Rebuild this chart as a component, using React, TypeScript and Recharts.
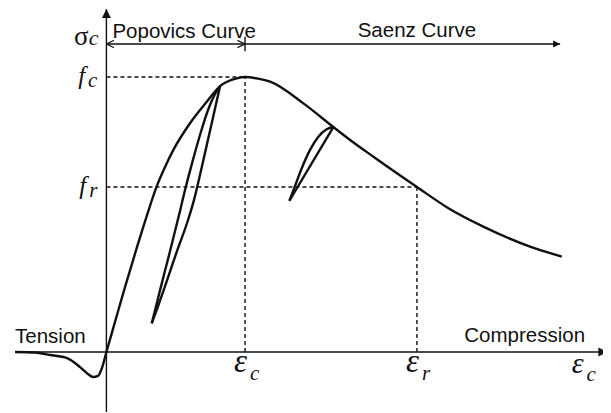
import {
  ComposedChart,
  Line,
  XAxis,
  YAxis,
  ReferenceLine,
  Scatter,
} from "recharts";

// strain as a multiple of the peak strain, stress as a multiple of the peak stress
const envelope = [
  [-0.659, 0], [-0.515, -0.002], [-0.407, -0.011], [-0.284, -0.022],
  [-0.19, -0.055], [-0.133, -0.08], [-0.097, -0.091], [-0.061, -0.087],
  [-0.032, -0.058], [0, 0], [0.048, 0.085], [0.134, 0.236], [0.221, 0.382],
  [0.293, 0.498], [0.358, 0.596], [0.423, 0.673], [0.483, 0.735],
  [0.603, 0.832], [0.724, 0.91], [0.82, 0.967], [0.94, 0.995], [1, 1],
  [1.094, 0.994], [1.181, 0.983], [1.421, 0.904], [1.637, 0.818],
  [1.758, 0.771], [1.926, 0.71], [2.24, 0.6], [2.467, 0.523],
  [2.719, 0.456], [3.056, 0.383], [3.285, 0.347],
];

// first unload/reload cycle, just before the peak
const cycleOneReload = [
  [0.327, 0.104], [0.387, 0.225], [0.459, 0.367], [0.531, 0.513],
  [0.567, 0.589], [0.618, 0.687], [0.675, 0.789], [0.733, 0.88],
  [0.776, 0.931], [0.82, 0.967],
];
const cycleOneUnload = [
  [0.327, 0.104], [0.363, 0.153], [0.426, 0.244], [0.509, 0.367],
  [0.589, 0.48], [0.632, 0.553], [0.675, 0.644], [0.747, 0.804],
  [0.82, 0.967],
];

// second cycle, on the softening branch
const cycleTwoReload = [
  [1.32, 0.55], [1.361, 0.604], [1.409, 0.668], [1.469, 0.735],
  [1.529, 0.783], [1.589, 0.81], [1.637, 0.818],
];
const cycleTwoUnload = [[1.32, 0.55], [1.637, 0.818]];

const peakStrain = 1;
const peakStress = 1;
const residualStrain = 2.24;
const residualStress = 0.6;

const strainAxisEnd = 3.614;
const strainAxisStart = -0.659;
const stressAxisTop = 1.247;
const stressAxisBottom = -0.218;
const rangeLevel = 1.12;
const saenzEnd = 3.273;

const strainTicks = [peakStrain, residualStrain, 3.357];
const strainTickSubs = ["c", "r", "c"];

const toPoints = (rows: number[][]) => rows.map(([e, s]) => ({ e, s }));

const INK = "#111";
const SANS = "'Liberation Sans', Arial, sans-serif";
const SERIF = "'Liberation Serif', 'Times New Roman', serif";

const curve = {
  dataKey: "s",
  stroke: INK,
  strokeWidth: 2.4,
  dot: false,
  activeDot: false,
  isAnimationActive: false,
} as const;

const dashed = { stroke: INK, strokeWidth: 1.4, strokeDasharray: "4 3" };

const seg = (marker: { start?: string; end?: string }, width = 1.4) =>
  (p: any) => (
    <line
      x1={p.x1}
      y1={p.y1}
      x2={p.x2}
      y2={p.y2}
      stroke={INK}
      strokeWidth={width}
      markerStart={marker.start ? `url(#${marker.start})` : undefined}
      markerEnd={marker.end ? `url(#${marker.end})` : undefined}
    />
  );

const at = (e: number, s: number) => [{ e, s }];

const App = () => {
  return (
    <div>
      <svg width={0} height={0} style={{ position: "absolute" }}>
        <defs>
          <marker id="solidHead" viewBox="0 0 10 10" refX={10} refY={5}
            markerWidth={9} markerHeight={10} markerUnits="userSpaceOnUse"
            orient="auto">
            <path d="M0,0 L10,5 L0,10 z" fill={INK} />
          </marker>
          <marker id="smallHead" viewBox="0 0 10 10" refX={10} refY={5}
            markerWidth={8} markerHeight={7} markerUnits="userSpaceOnUse"
            orient="auto">
            <path d="M0,0 L10,5 L0,10 z" fill={INK} />
          </marker>
          <marker id="openHead" viewBox="0 0 10 10" refX={9.5} refY={5}
            markerWidth={8} markerHeight={8} markerUnits="userSpaceOnUse"
            orient="auto-start-reverse">
            <path d="M0,0.5 L9.5,5 L0,9.5" fill="none" stroke={INK} strokeWidth={1.6} />
          </marker>
        </defs>
      </svg>
      <ComposedChart
        width={603}
        height={405}
        margin={{ top: 0, right: 0, bottom: 0, left: 0 }}
      >
        <XAxis type="number" dataKey="e" domain={[-0.71, 3.64]} hide allowDataOverflow />
        <YAxis type="number" dataKey="s" domain={[-0.2218, 1.2509]} hide allowDataOverflow />

        {/* axes */}
        <ReferenceLine
          segment={[{ x: strainAxisStart, y: 0 }, { x: strainAxisEnd, y: 0 }]}
          shape={seg({ end: "solidHead" })}
        />
        <ReferenceLine
          segment={[{ x: 0, y: stressAxisBottom }, { x: 0, y: stressAxisTop }]}
          shape={seg({ end: "solidHead" })}
        />

        {/* guide lines to peak and residual points */}
        <ReferenceLine segment={[{ x: 0, y: peakStress }, { x: peakStrain, y: peakStress }]} {...dashed} />
        <ReferenceLine segment={[{ x: peakStrain, y: 0 }, { x: peakStrain, y: peakStress }]} {...dashed} />
        <ReferenceLine segment={[{ x: 0, y: residualStress }, { x: residualStrain, y: residualStress }]} {...dashed} />
        <ReferenceLine segment={[{ x: residualStrain, y: 0 }, { x: residualStrain, y: residualStress }]} {...dashed} />

        {/* model ranges */}
        <ReferenceLine
          segment={[{ x: 0, y: rangeLevel }, { x: peakStrain, y: rangeLevel }]}
          shape={seg({ start: "openHead", end: "openHead" })}
        />
        <ReferenceLine
          segment={[{ x: peakStrain, y: rangeLevel }, { x: saenzEnd, y: rangeLevel }]}
          shape={seg({ end: "smallHead" })}
        />
        <ReferenceLine
          segment={[{ x: peakStrain, y: rangeLevel - 0.026 }, { x: peakStrain, y: rangeLevel + 0.026 }]}
          shape={seg({})}
        />

        <Line data={toPoints(envelope)} type="monotone" {...curve} />
        <Line data={toPoints(cycleOneReload)} type="monotone" {...curve} />
        <Line data={toPoints(cycleOneUnload)} type="monotone" {...curve} />
        <Line data={toPoints(cycleTwoReload)} type="monotone" {...curve} />
        <Line data={toPoints(cycleTwoUnload)} type="linear" {...curve} />

        {/* text */}
        <Scatter
          data={at(0, rangeLevel)}
          dataKey="s"
          isAnimationActive={false}
          shape={(p: any) => (
            <g>
              <text x={p.cx - 8} y={p.cy + 1} textAnchor="end" fontFamily={SERIF} fill={INK}>
                <tspan fontSize={27}>σ</tspan>
                <tspan fontSize={22} fontStyle="italic">c</tspan>
              </text>
              <text x={p.cx + 6} y={p.cy - 6} fontFamily={SANS} fontSize={20.5} fill={INK}>
                Popovics Curve
              </text>
            </g>
          )}
        />
        <Scatter
          data={at(residualStrain, rangeLevel)}
          dataKey="s"
          isAnimationActive={false}
          shape={(p: any) => (
            <text x={p.cx} y={p.cy - 7} textAnchor="middle" fontFamily={SANS} fontSize={20.5} fill={INK}>
              Saenz Curve
            </text>
          )}
        />
        {[
          [peakStress, "c"],
          [residualStress, "r"],
        ].map(([s, sub]) => (
          <Scatter
            key={sub as string}
            data={at(0, s as number)}
            dataKey="s"
            isAnimationActive={false}
            shape={(p: any) => (
              <text x={p.cx - 9} y={p.cy + 7} textAnchor="end" fontFamily={SERIF} fontStyle="italic" fill={INK}>
                <tspan fontSize={25}>f</tspan>
                <tspan fontSize={21} dx={3} dy={3}>{sub}</tspan>
              </text>
            )}
          />
        ))}
        {strainTicks.map((e, i) => (
          <Scatter
            key={i}
            data={at(e, 0)}
            dataKey="s"
            isAnimationActive={false}
            shape={(p: any) => (
              <text
                x={p.cx - (i === 2 ? 0 : 11)}
                y={p.cy + (i === 2 ? 21 : 20)}
                fontFamily={SERIF}
                fontStyle="italic"
                fill={INK}
              >
                <tspan fontSize={i === 2 ? 30 : 33}>ε</tspan>
                <tspan fontSize={21} dx={3} dy={8}>{strainTickSubs[i]}</tspan>
              </text>
            )}
          />
        ))}
        <Scatter
          data={at(strainAxisStart, 0)}
          dataKey="s"
          isAnimationActive={false}
          shape={(p: any) => (
            <text x={p.cx} y={p.cy - 9} fontFamily={SANS} fontSize={20.5} fill={INK}>
              Tension
            </text>
          )}
        />
        <Scatter
          data={at(3.453, 0)}
          dataKey="s"
          isAnimationActive={false}
          shape={(p: any) => (
            <text x={p.cx} y={p.cy - 10} textAnchor="end" fontFamily={SANS} fontSize={20.5} fill={INK}>
              Compression
            </text>
          )}
        />
      </ComposedChart>
    </div>
  );
};

export default App;
